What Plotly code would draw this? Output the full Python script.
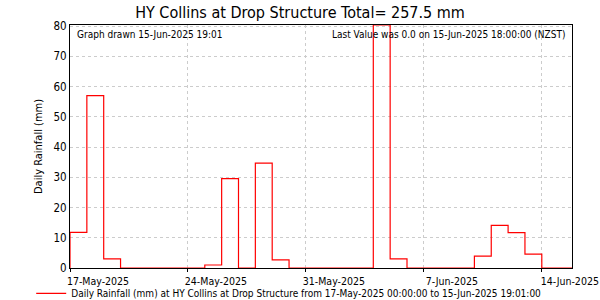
import plotly.graph_objects as go
import pandas as pd

# ---- data ----
start_date = "2025-05-17"
end_time = "2025-06-15 19:01"
rainfall = [11.8, 57.0, 3.0, 0, 0, 0, 0, 0, 1.0, 29.6, 0, 34.7, 2.7, 0, 0,
            0, 0, 0, 80.4, 3.0, 0, 0, 0, 0, 3.9, 14.1, 11.7, 4.6, 0, 0]
tick_dates = ["2025-05-17", "2025-05-24", "2025-05-31", "2025-06-07", "2025-06-14"]
tick_labels = ["17-May-2025", "24-May-2025", "31-May-2025", "7-Jun-2025", "14-Jun-2025"]
y_ticks = [0, 10, 20, 30, 40, 50, 60, 70, 80]

title_text = "HY Collins at Drop Structure Total= 257.5 mm"
series_name = ("Daily Rainfall (mm) at HY Collins at Drop Structure from "
               "17-May-2025 00:00:00 to 15-Jun-2025 19:01:00")
note_left = "Graph drawn 15-Jun-2025 19:01"
note_right = "Last Value was 0.0 on 15-Jun-2025 18:00:00 (NZST)"

dates = pd.date_range(start_date, periods=len(rainfall), freq="D")
step_x = [dates[0]] + list(dates) + [pd.Timestamp(end_time)]
step_y = [0] + rainfall + [rainfall[-1]]

FONT = "Tahoma, DejaVu Sans Condensed, DejaVu Sans, sans-serif"

fig = go.Figure()
fig.add_trace(go.Scatter(
    x=step_x, y=step_y, mode="lines", line_shape="hv",
    line=dict(color="#ff0000", width=1.2),
    name=series_name, showlegend=True, cliponaxis=True,
))

fig.update_layout(
    width=600, height=300,
    margin=dict(l=70, r=28, t=25, b=32),
    paper_bgcolor="white", plot_bgcolor="white",
    font=dict(family=FONT, size=11, color="#000000"),
    title=dict(text=title_text, x=0.5, xanchor="center", xref="container",
               y=0.96, yanchor="middle", yref="container",
               font=dict(family=FONT, size=16, color="#000000")),
    legend=dict(orientation="h", x=0.052, xanchor="left", xref="container",
                y=0.022, yanchor="middle", yref="container",
                font=dict(family=FONT, size=10), bgcolor="rgba(0,0,0,0)",
                itemwidth=30),
    showlegend=True,
)

fig.update_xaxes(
    type="date", range=[pd.Timestamp(start_date), pd.Timestamp(end_time)],
    tickmode="array", tickvals=tick_dates, ticktext=tick_labels,
    ticks="outside", ticklen=3, tickcolor="black",
    showline=True, linecolor="black", linewidth=1, mirror=True,
    showgrid=True, gridcolor="#cccccc", griddash="3px,3px", gridwidth=1,
    tickfont=dict(size=10.5), ticklabelshift=28, ticklabelstandoff=0,
    zeroline=False, layer="below traces", automargin=False,
)
fig.update_yaxes(
    range=[0, 80.4], tickmode="array", tickvals=y_ticks,
    ticks="", showline=True, linecolor="black", linewidth=1, mirror=True,
    showgrid=True, gridcolor="#cccccc", griddash="3px,3px", gridwidth=1,
    tickfont=dict(size=11.5), zeroline=False, layer="below traces",
    title=dict(text="Daily Rainfall (mm)", font=dict(size=11), standoff=8),
    automargin=False,
)

fig.add_annotation(text=note_left, xref="paper", yref="paper", x=0.01, y=0.99,
                   xanchor="left", yanchor="top", showarrow=False,
                   font=dict(size=10))
fig.add_annotation(text=note_right, xref="paper", yref="paper", x=0.99, y=0.99,
                   xanchor="right", yanchor="top", showarrow=False,
                   font=dict(size=10))

fig.write_html("out.html")
